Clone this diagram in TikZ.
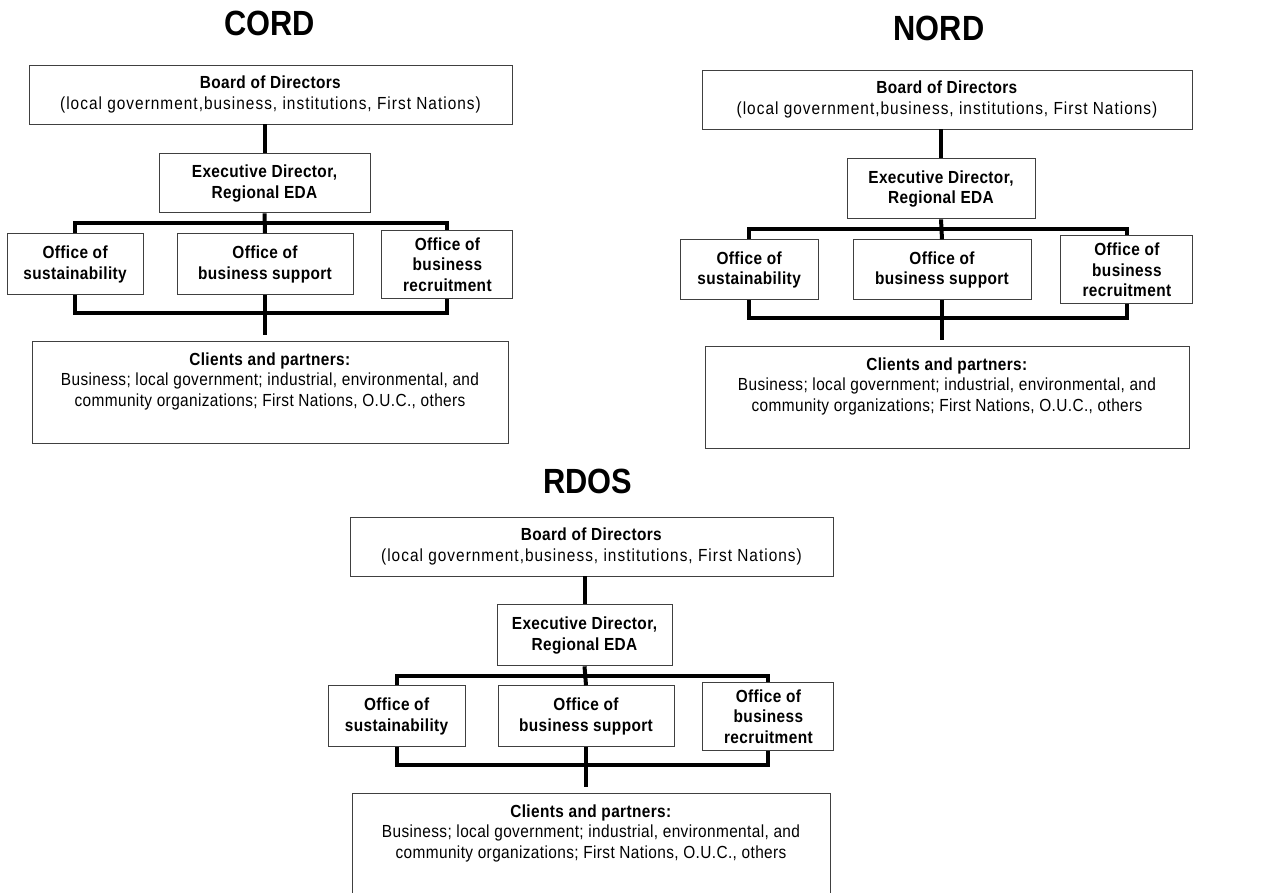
\documentclass[tikz,border=0pt]{standalone}
\usepackage{fontspec}
\setmainfont{Liberation Sans}[FakeStretch=0.88, LetterSpace=2.2]
\newfontfamily\spreadfont{Liberation Sans}[FakeStretch=0.88, LetterSpace=5.8]
\newfontfamily\titlefont{Liberation Sans}[FakeStretch=0.88]
\usepackage{tikz}
\usetikzlibrary{positioning, calc}

\begin{document}
\begin{tikzpicture}[
    x=1pt, y=-1pt,
    box/.style={rectangle, draw=black!75, line width=0.9pt, inner sep=0pt, align=center, font=\fontsize{17.5}{20.5}\selectfont},
    board/.style={box, minimum height=59pt},
    chief/.style={box, minimum height=60pt, font=\fontsize{17.5}{20.5}\selectfont\bfseries},
    office/.style={box, minimum height=61pt, font=\fontsize{17.5}{20.5}\selectfont\bfseries},
    office3/.style={office, minimum height=68pt},
    clients/.style={box, minimum height=102pt},
    heading/.style={anchor=base, inner sep=0pt, font=\titlefont\fontsize{35}{40}\selectfont\bfseries},
    link/.style={line width=4pt, black}
]
    \useasboundingbox (0,0) rectangle (1281,892);

    % CORD
    \node[heading] (ctitle) at (269.5,35) {CORD};
    \node[board, minimum width=483pt] (cbod) at (270.5,94.5) {\textbf{Board of Directors}\\{\spreadfont(local government,business, institutions, First Nations)}};
    \node[chief, minimum width=211pt, minimum height=59pt, below=29pt of cbod, xshift=-6pt] (ced) {Executive Director,\\Regional EDA};
    \node[office, minimum width=176pt, below=20pt of ced, xshift=0.5pt] (cob) {Office of\\business support};
    \node[office, minimum width=136pt, left=33pt of cob] (cos) {Office of\\sustainability};
    \node[office3, minimum width=131pt, right=28pt of cob] (cor) {Office of\\business\\recruitment};
    \node[clients, minimum width=476pt, below=46pt of cob, xshift=5pt] (ccp) {\textbf{Clients and partners:}\\Business; local government; industrial, environmental, and\\community organizations; First Nations, O.U.C., others\\\strut};

    \draw[link] (ced.north |- cbod.south) -- (ced.north);
    \draw[link] (cos.north) |- ($(ced.south)+(0,10)$) -| (cor.north);
    \draw[link] (ced.south) -- (cob.north);
    \draw[link] (cos.south) |- ($(cob.south)+(0,18)$) -| (cor.south);
    \draw[link, shorten >=6pt] (cob.south) -- (cob.south |- ccp.north);

    % NORD
    \node[heading] (ntitle) at (939,40) {NORD};
    \node[board, minimum width=490pt] (nbod) at (947,99.5) {\textbf{Board of Directors}\\{\spreadfont(local government,business, institutions, First Nations)}};
    \node[chief, minimum width=188pt, below=29pt of nbod, xshift=-6pt] (ned) {Executive Director,\\Regional EDA};
    \node[office, minimum width=178pt, minimum height=60pt, below=20pt of ned, xshift=1pt] (nob) {Office of\\business support};
    \node[office, minimum width=138pt, minimum height=60pt, left=34pt of nob] (nos) {Office of\\sustainability};
    \node[office3, minimum width=132pt, right=29pt of nob] (nor) {Office of\\business\\recruitment};
    \node[clients, minimum width=484pt, below=46pt of nob, xshift=5pt] (ncp) {\textbf{Clients and partners:}\\Business; local government; industrial, environmental, and\\community organizations; First Nations, O.U.C., others\\\strut};

    \draw[link] (ned.north |- nbod.south) -- (ned.north);
    \draw[link] (nos.north) |- ($(ned.south)+(0,10)$) -| (nor.north);
    \draw[link] (ned.south) -- (nob.north);
    \draw[link] (nos.south) |- ($(nob.south)+(0,18)$) -| (nor.south);
    \draw[link, shorten >=6pt] (nob.south) -- (nob.south |- ncp.north);

    % RDOS
    \node[heading] (rtitle) at (588,493) {RDOS};
    \node[board, minimum width=483pt] (rbod) at (591.5,546.5) {\textbf{Board of Directors}\\{\spreadfont(local government,business, institutions, First Nations)}};
    \node[chief, minimum width=175pt, minimum height=61pt, below=28pt of rbod, xshift=-7pt] (red) {Executive Director,\\Regional EDA};
    \node[office, minimum width=176pt, below=19pt of red, xshift=1.5pt] (rob) {Office of\\business support};
    \node[office, minimum width=137pt, left=32pt of rob] (ros) {Office of\\sustainability};
    \node[office3, minimum width=131pt, right=28pt of rob] (ror) {Office of\\business\\recruitment};
    \node[clients, minimum width=478pt, below=46pt of rob, xshift=5pt] (rcp) {\textbf{Clients and partners:}\\Business; local government; industrial, environmental, and\\community organizations; First Nations, O.U.C., others\\\strut};

    \draw[link] (red.north |- rbod.south) -- (red.north);
    \draw[link] (ros.north) |- ($(red.south)+(0,10)$) -| (ror.north);
    \draw[link] (red.south) -- (rob.north);
    \draw[link] (ros.south) |- ($(rob.south)+(0,18)$) -| (ror.south);
    \draw[link, shorten >=6pt] (rob.south) -- (rob.south |- rcp.north);
\end{tikzpicture}
\end{document}
